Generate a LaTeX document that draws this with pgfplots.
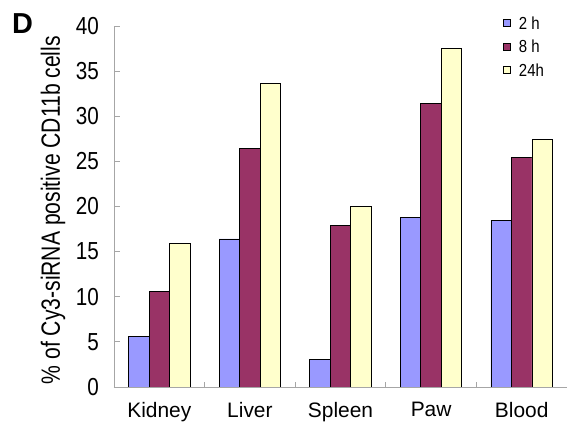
\documentclass[border=0pt]{standalone}
\usepackage{fontspec}
\setmainfont{Liberation Sans}
\newfontfamily\tickfont[FakeStretch=0.84]{Liberation Sans}
\newfontfamily\labfont[FakeStretch=0.8]{Liberation Sans}
\newfontfamily\legfont[FakeStretch=0.86]{Liberation Sans}
\usepackage{pgfplots}
\pgfplotsset{compat=1.18}
\definecolor{c2}{HTML}{9999FF}
\definecolor{c8}{HTML}{993366}
\definecolor{c24}{HTML}{FFFFCC}
\begin{document}
\begin{tikzpicture}
\path[use as bounding box] (0,0) rectangle (567bp,430bp);
\node[anchor=north west, font=\bfseries\fontsize{29}{29}\selectfont, inner sep=0] at (12bp,417bp) {D};
\begin{axis}[
  at={(114bp,43bp)}, anchor=south west,
  scale only axis, width=453bp, height=361bp,
  xmin=-0.5, xmax=4.5, ymin=0, ymax=40,
  ybar=0pt, bar width=20.5bp,
  axis lines*=left,
  axis line style={draw=gray!70, line width=0.8bp},
  tick align=inside,
  tick style={draw=gray!70, line width=0.8bp},
  major tick length=6bp, minor tick length=5bp,
  xtick={0,1,2,3,4},
  xticklabels={Kidney,Liver,Spleen,Paw,Blood},
  major x tick style={draw=none},
  minor xtick={0.5,1.5,2.5,3.5},
  ytick={0,5,...,40},
  /pgf/number format/assume math mode=true,
  yticklabel style={font=\tickfont\fontsize{24.7}{24.7}\selectfont, inner sep=0pt, xshift=-15bp},
  xticklabel style={font=\fontsize{21}{21}\selectfont, inner sep=0pt, yshift=-15bp},
  ylabel={\% of Cy3-siRNA positive CD11b cells},
  ylabel style={at={(rel axis cs:-0.1347,0.49)}, anchor=center, font=\labfont\fontsize{26.5}{26.5}\selectfont},
  every axis plot/.append style={draw=black, line width=0.9bp},
  legend image code/.code={\draw[#1,draw=black,line width=0.8bp] (0bp,-3.5bp) rectangle (7bp,3.5bp);},
  legend style={at={(0.8587,1.0256)}, anchor=north west, draw=none, fill=none,
    font=\legfont\fontsize{17.5}{17.5}\selectfont, inner sep=0pt, row sep=11bp,
    nodes={inner sep=0pt, text height=12.5bp, text depth=0pt},
    /tikz/every odd column/.append style={column sep=8bp}},
  legend cell align=left,
]
\addplot[fill=c2] coordinates {(0,5.65) (1,16.4) (2,3.1) (3,18.8) (4,18.5)};
\addplot[fill=c8] coordinates {(0,10.6) (1,26.4) (2,17.9) (3,31.4) (4,25.4)};
\addplot[fill=c24] coordinates {(0,15.9) (1,33.6) (2,20.0) (3,37.5) (4,27.4)};
\legend{2 h,8 h,24h}
\end{axis}
\end{tikzpicture}
\end{document}
